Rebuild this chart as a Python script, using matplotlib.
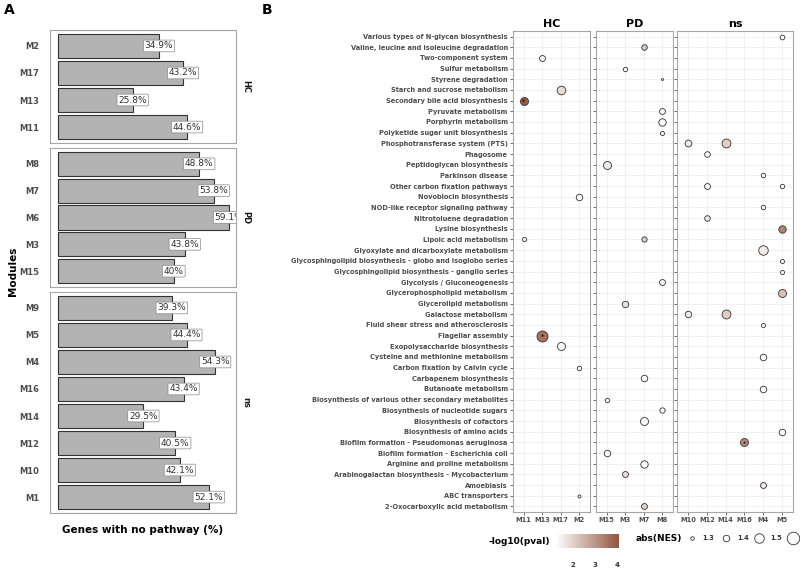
import matplotlib
matplotlib.use("Agg")
import matplotlib.pyplot as plt
import numpy as np
from matplotlib.colors import LinearSegmentedColormap, Normalize

W, H = 800, 572

# ---- panel A data ----
groups_a = ["HC", "PD", "ns"]
modules_a = {
    "HC": ["M2", "M17", "M13", "M11"],
    "PD": ["M8", "M7", "M6", "M3", "M15"],
    "ns": ["M9", "M5", "M4", "M16", "M14", "M12", "M10", "M1"],
}
pct_a = {
    "HC": [34.9, 43.2, 25.8, 44.6],
    "PD": [48.8, 53.8, 59.1, 43.8, 40.0],
    "ns": [39.3, 44.4, 54.3, 43.4, 29.5, 40.5, 42.1, 52.1],
}

# ---- panel B data ----
pathways = [
    "Various types of N-glycan biosynthesis",
    "Valine, leucine and isoleucine degradation",
    "Two-component system",
    "Sulfur metabolism",
    "Styrene degradation",
    "Starch and sucrose metabolism",
    "Secondary bile acid biosynthesis",
    "Pyruvate metabolism",
    "Porphyrin metabolism",
    "Polyketide sugar unit biosynthesis",
    "Phosphotransferase system (PTS)",
    "Phagosome",
    "Peptidoglycan biosynthesis",
    "Parkinson disease",
    "Other carbon fixation pathways",
    "Novobiocin biosynthesis",
    "NOD-like receptor signaling pathway",
    "Nitrotoluene degradation",
    "Lysine biosynthesis",
    "Lipoic acid metabolism",
    "Glyoxylate and dicarboxylate metabolism",
    "Glycosphingolipid biosynthesis - globo and isoglobo series",
    "Glycosphingolipid biosynthesis - ganglio series",
    "Glycolysis / Gluconeogenesis",
    "Glycerophospholipid metabolism",
    "Glycerolipid metabolism",
    "Galactose metabolism",
    "Fluid shear stress and atherosclerosis",
    "Flagellar assembly",
    "Exopolysaccharide biosynthesis",
    "Cysteine and methionine metabolism",
    "Carbon fixation by Calvin cycle",
    "Carbapenem biosynthesis",
    "Butanoate metabolism",
    "Biosynthesis of various other secondary metabolites",
    "Biosynthesis of nucleotide sugars",
    "Biosynthesis of cofactors",
    "Biosynthesis of amino acids",
    "Biofilm formation - Pseudomonas aeruginosa",
    "Biofilm formation - Escherichia coli",
    "Arginine and proline metabolism",
    "Arabinogalactan biosynthesis - Mycobacterium",
    "Amoebiasis",
    "ABC transporters",
    "2-Oxocarboxylic acid metabolism",
]
groups_b = ["HC", "PD", "ns"]
modules_b = {
    "HC": ["M11", "M13", "M17", "M2"],
    "PD": ["M15", "M3", "M7", "M8"],
    "ns": ["M10", "M12", "M14", "M16", "M4", "M5"],
}
# one entry per dot: pathway index (0 = top row), module, abs(NES), -log10(pval), significant
dot_path = [0, 1, 2, 3, 4, 5, 6, 7, 8, 9, 10, 10, 11, 12, 13, 14, 14, 15, 16, 17,
            18, 19, 19, 20, 21, 22, 23, 24, 25, 26, 26, 27, 28, 29, 30, 31, 32, 33,
            34, 35, 36, 37, 38, 39, 40, 41, 42, 43, 44]
dot_module = ["M5", "M7", "M13", "M3", "M8", "M17", "M11", "M8", "M8", "M8", "M10", "M14",
              "M12", "M15", "M4", "M12", "M5", "M2", "M4", "M12",
              "M5", "M11", "M7", "M4", "M5", "M5", "M8", "M5", "M3", "M10", "M14", "M4",
              "M13", "M17", "M4", "M2", "M7", "M4",
              "M15", "M8", "M7", "M5", "M16", "M15", "M7", "M3", "M4", "M2", "M7"]
dot_nes = [1.34, 1.37, 1.38, 1.33, 1.25, 1.47, 1.45, 1.38, 1.43, 1.32, 1.41, 1.48,
           1.37, 1.45, 1.33, 1.38, 1.33, 1.40, 1.33, 1.37,
           1.43, 1.32, 1.36, 1.50, 1.32, 1.32, 1.38, 1.45, 1.40, 1.40, 1.48, 1.32,
           1.55, 1.45, 1.40, 1.33, 1.40, 1.40,
           1.33, 1.36, 1.45, 1.40, 1.45, 1.40, 1.43, 1.38, 1.38, 1.28, 1.38]
dot_logp = [1.35, 2.2, 1.35, 1.35, 1.4, 1.9, 4.0, 1.35, 1.35, 1.35, 1.7, 2.1,
            1.35, 1.6, 1.35, 1.35, 1.35, 1.35, 1.35, 1.7,
            3.3, 1.35, 2.1, 1.6, 1.35, 1.35, 1.35, 2.3, 1.8, 1.6, 2.1, 1.35,
            3.6, 1.4, 1.35, 1.35, 1.35, 1.35,
            1.35, 1.35, 1.35, 1.35, 3.2, 1.35, 1.35, 1.8, 1.7, 1.35, 2.0]
dot_star = [False] * len(dot_path)
for k in (6, 32, 42):
    dot_star[k] = True

size_breaks = [1.3, 1.4, 1.5, 1.6]
color_ticks = [2, 3, 4]
vmin, vmax = 1.26, 4.09

cmap = LinearSegmentedColormap.from_list("wb", ["#ffffff", "#94553e"])
norm = Normalize(vmin, vmax)


def nes_size(v):
    d_px = max(2.0, 3.5 + (np.asarray(v) - 1.3) * 30)
    return (d_px * 72 / 100) ** 2


def rect(x0, y0, x1, y1):
    return [x0 / W, 1 - y1 / H, (x1 - x0) / W, (y1 - y0) / H]


fig = plt.figure(figsize=(8, 5.72), dpi=100)
grey_text = "#4d4d4d"
edge_grey = "#a6a6a6"

# ---- panel A ----
a_boxes = {"HC": (30, 143), "PD": (148, 287), "ns": (292, 513)}
for g in groups_a:
    y0, y1 = a_boxes[g]
    ax = fig.add_axes(rect(50, y0, 236, y1))
    mods = modules_a[g]
    vals = pct_a[g]
    pos = np.arange(len(mods))
    ax.barh(pos, vals, height=0.9, color="#b3b3b3", edgecolor="#333333", linewidth=0.8)
    for p, v in zip(pos, vals):
        ax.text(v, p, f"{v:g}%", ha="center", va="center", fontsize=6.5, color="#333333",
                clip_on=True,
                bbox=dict(boxstyle="round,pad=0.15,rounding_size=0.1", fc="white",
                          ec="#888888", lw=0.5))
    ax.set_xlim(-2.77, 61.5)
    ax.set_ylim(len(mods) - 0.41, -0.59)
    ax.set_yticks(pos)
    ax.set_yticklabels(mods, fontsize=6, fontweight="bold", color=grey_text)
    ax.set_xticks([])
    ax.tick_params(axis="y", length=0, pad=8)
    for s in ax.spines.values():
        s.set_color(edge_grey)
        s.set_linewidth(0.8)
    fig.text(246 / W, 1 - (y0 + y1) / 2 / H, g, rotation=270, ha="center", va="center",
             fontsize=6, fontweight="bold", color="#1a1a1a")

fig.text(143 / W, 1 - 530 / H, "Genes with no pathway (%)", ha="center", va="center",
         fontsize=7.5, fontweight="bold")
fig.text(13 / W, 1 - 271 / H, "Modules", ha="center", va="center", rotation=90,
         fontsize=7.5, fontweight="bold")
fig.text(4 / W, 1 - 10 / H, "A", ha="left", va="center", fontsize=10, fontweight="bold")
fig.text(262 / W, 1 - 10 / H, "B", ha="left", va="center", fontsize=10, fontweight="bold")

# ---- panel B ----
b_boxes = {"HC": (512.7, 590.3), "PD": (595.7, 673), "ns": (677.3, 792.7)}
npath = len(pathways)
for gi, g in enumerate(groups_b):
    x0, x1 = b_boxes[g]
    ax = fig.add_axes(rect(x0, 31, x1, 512))
    mods = modules_b[g]
    ax.set_xlim(-0.6, len(mods) - 0.4)
    ax.set_ylim(npath - 1 + 0.52, -0.52)
    ax.set_xticks(range(len(mods)))
    ax.set_xticklabels(mods, fontsize=4.8, fontweight="bold", color=grey_text)
    ax.set_yticks(range(npath))
    if gi == 0:
        ax.set_yticklabels(pathways, fontsize=4.8, fontweight="bold", color=grey_text)
    else:
        ax.set_yticklabels([])
        ax.tick_params(axis="y", length=0)
    ax.tick_params(axis="both", length=2, width=0.5, color="#333333", pad=1.5)
    ax.grid(True, color="#ebebeb", linewidth=0.5)
    ax.set_axisbelow(True)
    for s in ax.spines.values():
        s.set_color(edge_grey)
        s.set_linewidth(0.8)
    ax.set_title(g, fontsize=8, fontweight="bold", pad=3)

    for p, m, nes, lp, st in zip(dot_path, dot_module, dot_nes, dot_logp, dot_star):
        if m not in mods:
            continue
        xi = mods.index(m)
        ax.scatter(xi, p, s=nes_size(nes), color=cmap(norm(lp)), edgecolor="#333333",
                   linewidth=0.6, zorder=3)
        if st:
            ax.text(xi, p + 0.15, "*", ha="center", va="center", fontsize=5, zorder=4)

# colour legend
fig.text(550 / W, 1 - 542 / H, "-log10(pval)", ha="right", va="center",
         fontsize=6.5, fontweight="bold")
cax = fig.add_axes(rect(556, 534, 619, 548))
grad = np.linspace(vmin, vmax, 256)[None, :]
cax.imshow(grad, cmap=cmap, norm=norm, aspect="auto", extent=(vmin, vmax, 0, 1))
cax.set_xlim(vmin, vmax)
cax.set_yticks([])
cax.set_xticks(color_ticks)
cax.set_xticklabels([str(t) for t in color_ticks], fontsize=5, fontweight="bold",
                    color="#333333")
cax.tick_params(axis="x", length=0, pad=10)
for s in cax.spines.values():
    s.set_visible(False)

# size legend
fig.text(636 / W, 1 - 538 / H, "abs(NES)", ha="left", va="center",
         fontsize=6.5, fontweight="bold")
lax = fig.add_axes(rect(684, 528, 800, 548))
lax.set_xlim(684, 800)
lax.set_ylim(0, 1)
lax.axis("off")
leg_x = [691.7, 726, 759, 793]
for lx, b in zip(leg_x, size_breaks):
    lax.scatter(lx, 0.5, s=nes_size(b), color="white", edgecolor="#333333",
                linewidth=0.6, clip_on=False)
    if lx + 20 < W:
        lax.text(lx + 11, 0.5, f"{b}", ha="left", va="center", fontsize=4.8,
                 fontweight="bold", color="#333333")

fig.savefig("out.png", dpi=100)
